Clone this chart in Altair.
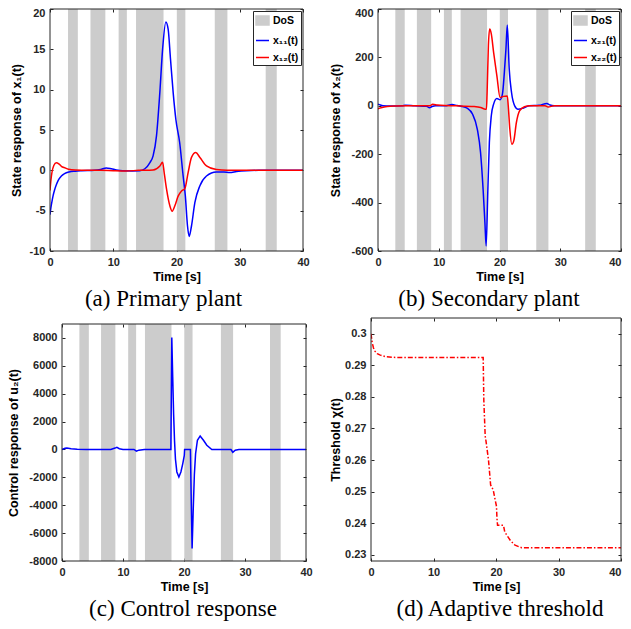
import altair as alt
import pandas as pd

# ---------------- data ----------------
dos_start = [2.85, 6.4, 10.85, 13.6, 20.05, 26.05, 34.1]
dos_end = [4.4, 8.75, 12.15, 17.95, 21.4, 28.05, 35.85]

x_ticks = [0, 10, 20, 30, 40]

# (a) primary plant
t_x11 = [0, 0.15, 0.3, 0.5, 0.7, 1.0, 1.3, 1.8, 2.3, 3, 4, 5, 7, 8, 8.9, 9.7, 10.5, 11.5, 13, 14.2,
         15, 15.8, 16.3, 16.84, 17.37, 17.8, 18.32, 18.68, 19.05, 19.47, 19.9, 20.5, 21.05, 21.4,
         21.74, 22.0, 22.37, 22.9, 23.7, 24.74, 26.3, 27.5, 28.4, 29.5, 31, 33, 40]
x11 = [-5.5, -4.6, -3.9, -3.1, -2.5, -1.8, -1.25, -0.7, -0.4, -0.2, -0.1, -0.05, 0, 0.1, 0.3, 0.2, 0.05,
       -0.05, -0.07, -0.05, 0.2, 0.97, 1.8, 4.3, 9.7, 15, 18.4, 17.5, 13.8, 9.66, 6.3, 3.45, -0.7, -3.2,
       -6.9, -8.2, -6.9, -4, -1.9, -0.7, -0.2, -0.2, -0.27, -0.15, -0.05, 0, 0]
t_x12 = [0, 0.15, 0.3, 0.6, 1.0, 1.4, 1.8, 2.4, 2.9, 4, 6, 8, 10, 12, 14, 16.3, 17.37, 17.8, 18.05,
         18.42, 18.95, 19.32, 19.74, 20.26, 20.8, 21.3, 21.84, 22.37, 23.05, 23.7, 24.74, 26.3, 28, 40]
x12 = [-2.5, -1.2, -0.3, 0.6, 0.95, 0.8, 0.5, 0.3, 0.14, 0.03, 0, 0, -0.05, -0.08, 0, 0.05, 0.55, 1.0,
       -0.27, -2.3, -4.4, -5.07, -4.4, -3.2, -2.55, -2.3, -0.27, 1.6, 2.2, 1.6, 0.55, 0.1, 0, 0]

# (b) secondary plant
t_x21 = [0, 0.4, 0.8, 2, 4, 4.5, 6, 8, 8.47, 8.9, 9.5, 11, 12.2, 13, 13.67, 14.74, 15.55, 16.35, 16.88,
         17.3, 17.6, 17.8, 18.07, 18.33, 18.65, 19.03, 19.57, 20.1, 20.48, 20.8, 21.06, 21.28, 21.6,
         21.98, 22.5, 23.05, 23.86, 24.9, 26.5, 27.8, 28.3, 29, 40]
x21 = [7, 3, 0, -1, 0, 2, 0, -2, -8, -3, 0, 0, 5, 1, -2, -11, -34, -97, -193, -345, -483, -579, -358,
       -152, -41, 7, 30, 25, 48, 138, 234, 334, 152, 55, 0, -14, -10, 0, 2, 10, 3, 0, 0]
t_x22 = [0, 0.5, 1.5, 3, 5, 8.5, 9.0, 9.8, 11, 13, 15.8, 16.9, 17.68, 17.85, 17.96, 18.17, 18.38, 18.65,
         19.03, 19.57, 20.1, 20.64, 21.28, 21.44, 21.7, 22.03, 22.35, 22.78, 23.3, 24.1, 25, 27.5, 28,
         29, 40]
x22 = [-12, -8, -3, -1, 0, 0, 6, 3, 1, 0, -3, -7, -14, -14, 55, 248, 317, 297, 221, 124, 34, 39, 41, 0,
       -97, -159, -145, -69, -21, -4, 0, 0, -5, 0, 0]

# (c) control response
t_u2 = [0, 0.5, 0.8, 1.5, 2.5, 4, 8, 8.7, 9.0, 9.4, 10, 11.8, 12.2, 12.6, 13.5, 17.85, 18.0, 18.15, 18.3,
        18.45, 18.6, 18.83, 19.16, 19.49, 19.8, 20.05, 20.1, 21.05, 21.2, 21.33, 21.5, 21.7, 21.9, 22.2,
        22.65, 23.19, 23.74, 24.56, 27.7, 28.0, 28.4, 29, 40]
u2 = [0, 80, 100, 60, 20, 0, 0, 100, 150, 50, 0, 0, -120, -50, 0, 0, 8030, 5200, 2500, 600, -700, -1612,
      -1970, -1612, -1012, -420, 0, 0, -4000, -7110, -4500, -1800, -300, 660, 970, 660, 300, 0, 0, -200,
      -50, 0, 0]

# (d) adaptive threshold
t_chi = [0, 0.1, 0.2, 0.4, 0.63, 1.0, 1.4, 2.4, 4, 17.95, 18.05, 18.27, 18.4, 18.8, 19.14, 19.56, 19.8,
         20.08, 20.15, 20.25, 21.2, 21.4, 21.8, 22.3, 23.05, 24.1, 40]
chi = [0.300, 0.2985, 0.2971, 0.2955, 0.2945, 0.2937, 0.2933, 0.2927, 0.2925, 0.2925, 0.2790, 0.2676,
       0.2660, 0.2600, 0.2521, 0.2505, 0.2480, 0.2453, 0.2416, 0.2393, 0.2393, 0.2372, 0.2360, 0.2345,
       0.2330, 0.2322, 0.2322]

# ---------------- styling ----------------
FONT = "Liberation Sans"
SERIF = "Liberation Serif"
FRAME = "#262626"
GRAY = "#cccccc"
BLUE = "#0000ff"
RED = "#ff0000"
RECT_PATH = "M-1,-0.7L1,-0.7L1,0.7L-1,0.7Z"


def ax(**kw):
    base = dict(labelFont=FONT, labelFontSize=11, labelFontWeight="bold", labelColor=FRAME,
                titleFont=FONT, titleFontSize=12.5, titleFontWeight="bold", titleColor="black",
                tickColor=FRAME, tickWidth=1, tickSize=3, domain=False, grid=False,
                labelFlush=False, labelOverlap=False)
    base.update(kw)
    return alt.Axis(**base)


def panel(lines, ydom, yticks, ytitle, ytpad, caption, cap_dx, cap_off,
          gw, gh, x0, y0, legend_names=None, interp="monotone", dos=True, top_label_shift=0,
          last_x_right=False):
    # gw, gh: size of the view group; x0, y0: where the plot frame starts inside it
    xs = alt.Scale(domain=[0, 40], nice=False, zero=False, range=[x0, gw])
    ys = alt.Scale(domain=ydom, nice=False, zero=False, range=[gh, y0])
    xkw = dict(orient="bottom", values=x_ticks, title="Time [s]", labelPadding=5, titlePadding=3,
               offset=-3)
    if last_x_right:
        xkw["labelAlign"] = {"condition": {"test": "datum.value == 40", "value": "right"},
                             "value": "center"}
    main_x = ax(**xkw)
    ykw = dict(orient="left", values=yticks, title=ytitle, labelPadding=5, titlePadding=ytpad,
               labelExpr="'' + datum.value", offset=-(x0 + 3))
    if top_label_shift:
        ykw["labelOffset"] = {"condition": {"test": "datum.value == %s" % yticks[-1],
                                            "value": top_label_shift}, "value": 0}
    main_y = ax(**ykw)
    top_x = ax(orient="top", values=x_ticks, labels=False, title=None, offset=-(y0 + 3))
    right_y = ax(orient="right", values=yticks, labels=False, title=None, offset=-3)

    layers = []
    if dos:
        dos_df = pd.DataFrame({"start": dos_start, "end": dos_end})
        layers.append(
            alt.Chart(dos_df).mark_rect(color=GRAY).encode(
                x=alt.X("start:Q", scale=xs, axis=None),
                x2="end:Q",
                y=alt.YDatum(ydom[0], type="quantitative", scale=ys, axis=None),
                y2=alt.Y2Datum(ydom[1]),
            )
        )
    for i, (tt, vv, color, dash) in enumerate(lines):
        df = pd.DataFrame({"t": tt, "v": vv})
        mk = dict(color=color, strokeWidth=1.5, clip=True, interpolate=interp)
        if dash:
            mk["strokeDash"] = dash
        layers.append(
            alt.Chart(df).mark_line(**mk).encode(
                x=alt.X("t:Q", scale=xs, axis=top_x if i == 0 else None),
                y=alt.Y("v:Q", scale=ys, axis=right_y if i == 0 else None),
            )
        )
    # plot frame (box) drawn through the scales; it carries the labelled axes
    layers.append(
        alt.Chart(pd.DataFrame({"f": [0]})).mark_rect(filled=False, color=FRAME, strokeWidth=1).encode(
            x=alt.XDatum(0, type="quantitative", scale=xs, axis=main_x),
            x2=alt.X2Datum(40),
            y=alt.YDatum(ydom[0], type="quantitative", scale=ys, axis=main_y),
            y2=alt.Y2Datum(ydom[1]),
        )
    )
    if legend_names:
        leg = alt.Legend(orient="top-right", title=None, offset=2, padding=2, rowPadding=4,
                         labelFont=FONT, labelFontSize=10.5, labelFontWeight="bold", labelColor="black",
                         labelOffset=3, symbolSize=169, symbolStrokeWidth=1.5, symbolOpacity=1,
                         strokeColor=FRAME, fillColor="white", cornerRadius=0)
        ldf = pd.DataFrame({"s": legend_names})
        layers.append(
            alt.Chart(ldf).mark_point(filled=True, opacity=1, clip=True, size=169).encode(
                x=alt.XDatum(-100, type="quantitative", scale=xs, axis=None),
                y=alt.YDatum(ydom[0], type="quantitative", scale=ys, axis=None),
                fill=alt.Fill("s:N", scale=alt.Scale(domain=legend_names, range=[GRAY, BLUE, RED]),
                              legend=leg),
                stroke=alt.Stroke("s:N", scale=alt.Scale(domain=legend_names, range=[GRAY, BLUE, RED]),
                                  legend=leg),
                shape=alt.Shape("s:N", scale=alt.Scale(domain=legend_names,
                                                       range=[RECT_PATH, "stroke", "stroke"]),
                                legend=leg),
            )
        )
    return alt.layer(*layers).resolve_axis(x="independent", y="independent").properties(
        width=gw, height=gh,
        title=alt.TitleParams(text=caption, orient="bottom", anchor="middle", frame="group",
                              font=SERIF, fontSize=23, fontWeight="normal", color="black",
                              offset=cap_off, dx=cap_dx),
    )


pa = panel([(t_x11, x11, BLUE, None), (t_x12, x12, RED, None)], [-10, 20],
           [-10, -5, 0, 5, 10, 15, 20], "State response of x\u2081(t)", 6,
           "(a) Primary plant", -13, 5, 253, 242, 0, 0,
           legend_names=["DoS", "x\u2081\u2081(t)", "x\u2081\u2082(t)"], top_label_shift=4)
pb = panel([(t_x21, x21, BLUE, None), (t_x22, x22, RED, None)], [-600, 400],
           [-600, -400, -200, 0, 200, 400], "State response of x\u2082(t)", 8,
           "(b) Secondary plant", -7, 5, 250, 242, 7, 0,
           legend_names=["DoS", "x\u2082\u2081(t)", "x\u2082\u2082(t)"], top_label_shift=4,
           last_x_right=True)
pc = panel([(t_u2, u2, BLUE, None)], [-8000, 9000],
           [-8000, -6000, -4000, -2000, 0, 2000, 4000, 6000, 8000], "Control response of u\u2082(t)", 8,
           "(c) Control response", 5, 5, 256, 243, 12, 6, interp="linear")
pd_ = panel([(t_chi, chi, RED, [5, 2, 1.5, 2])], [0.228, 0.305],
            [0.23, 0.24, 0.25, 0.26, 0.27, 0.28, 0.29, 0.3], "Threshold \u03c7(t)", 2,
            "(d) Adaptive threshold", 4, 5, 250, 243, 0, 0, interp="linear", dos=False,
            last_x_right=True)

chart = alt.concat(
    pa, pb, pc, pd_,
    columns=2, spacing={"row": 67, "column": 65}, align="each", bounds="flush",
).resolve_scale(
    fill="independent", stroke="independent", shape="independent"
).resolve_legend(
    fill="independent", stroke="independent", shape="independent"
).properties(
    autosize=alt.AutoSizeParams(type="none"),
    padding={"left": 42, "top": 1, "right": 573, "bottom": 612},
    background="white",
).configure_view(strokeWidth=0)

chart.save("out.html", embed_options={"renderer": "svg", "actions": False})
